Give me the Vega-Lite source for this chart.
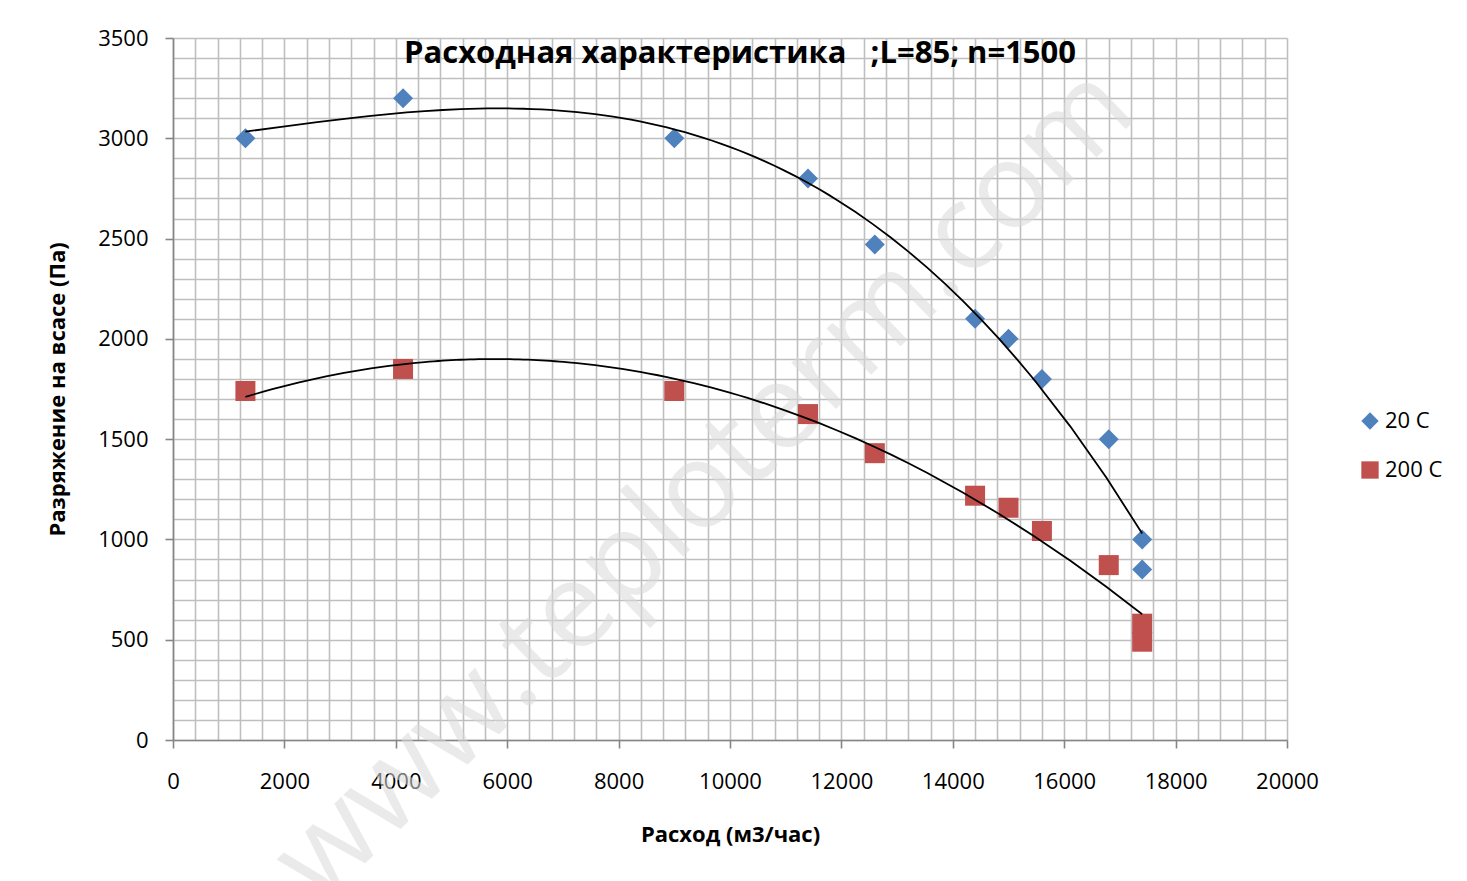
{
  "$schema": "https://vega.github.io/schema/vega-lite/v6.json",
  "autosize": {"type": "none"},
  "width": 1114,
  "height": 702,
  "padding": {"left": 173, "top": 38, "right": 180, "bottom": 141},
  "background": "white",
  "config": {
    "font": "Open Sans",
    "view": {"stroke": null}
  },
  "datasets": {
    "points": [
      {"x": 1300, "y": 3000, "series": "20 C"},
      {"x": 4130, "y": 3200, "series": "20 C"},
      {"x": 9000, "y": 3000, "series": "20 C"},
      {"x": 11400, "y": 2800, "series": "20 C"},
      {"x": 12600, "y": 2470, "series": "20 C"},
      {"x": 14400, "y": 2100, "series": "20 C"},
      {"x": 15000, "y": 2000, "series": "20 C"},
      {"x": 15600, "y": 1800, "series": "20 C"},
      {"x": 16800, "y": 1500, "series": "20 C"},
      {"x": 17400, "y": 1000, "series": "20 C"},
      {"x": 17400, "y": 850, "series": "20 C"},
      {"x": 1300, "y": 1740, "series": "200 C"},
      {"x": 4130, "y": 1850, "series": "200 C"},
      {"x": 9000, "y": 1740, "series": "200 C"},
      {"x": 11400, "y": 1625, "series": "200 C"},
      {"x": 12600, "y": 1430, "series": "200 C"},
      {"x": 14400, "y": 1218, "series": "200 C"},
      {"x": 15000, "y": 1158, "series": "200 C"},
      {"x": 15600, "y": 1042, "series": "200 C"},
      {"x": 16800, "y": 872, "series": "200 C"},
      {"x": 17400, "y": 580, "series": "200 C"},
      {"x": 17400, "y": 490, "series": "200 C"}
    ],
    "watermark": [
      {"label": "www.teploterm.com", "x": 9550, "y": 1270}
    ],
    "titles": [
      {"label": "Расходная характеристика\u00a0\u00a0\u00a0;L=85; n=1500"}
    ]
  },
  "layer": [
    {
      "data": {"name": "watermark"},
      "mark": {"type": "text", "fontSize": 120, "angle": -44, "align": "center", "baseline": "middle", "color": "#DADADA", "opacity": 0.55, "clip": false, "font": "Open Sans"},
      "encoding": {
        "x": {"field": "x", "type": "quantitative",
              "scale": {"domain": [0, 20000], "nice": false, "zero": true},
              "axis": {"orient": "bottom", "values": [0,400,800,1200,1600,2000,2400,2800,3200,3600,4000,4400,4800,5200,5600,6000,6400,6800,7200,7600,8000,8400,8800,9200,9600,10000,10400,10800,11200,11600,12000,12400,12800,13200,13600,14000,14400,14800,15200,15600,16000,16400,16800,17200,17600,18000,18400,18800,19200,19600,20000],
                       "grid": true, "gridColor": "#BFBFBF", "gridWidth": 1.6, "labels": false, "ticks": false, "domain": false, "title": null}},
        "y": {"field": "y", "type": "quantitative",
              "scale": {"domain": [0, 3500], "nice": false, "zero": true},
              "axis": {"orient": "left", "values": [0,100,200,300,400,500,600,700,800,900,1000,1100,1200,1300,1400,1500,1600,1700,1800,1900,2000,2100,2200,2300,2400,2500,2600,2700,2800,2900,3000,3100,3200,3300,3400,3500],
                       "grid": true, "gridColor": "#BFBFBF", "gridWidth": 1.6, "labels": false, "ticks": false, "domain": false, "title": null}},
        "text": {"field": "label"}
      }
    },
    {
      "data": {"name": "points"},
      "mark": {"type": "point", "filled": true, "size": 400, "opacity": 1},
      "encoding": {
        "x": {"field": "x", "type": "quantitative",
              "scale": {"domain": [0, 20000], "nice": false},
              "axis": {"orient": "bottom", "values": [0,2000,4000,6000,8000,10000,12000,14000,16000,18000,20000], "format": "d",
                       "grid": false, "domainColor": "#868686", "domainWidth": 1.6, "tickColor": "#868686", "tickWidth": 1.6, "tickSize": 8,
                       "labelFont": "Open Sans", "labelFontSize": 22, "labelColor": "#000000", "labelPadding": 23, "labelFlush": false,
                       "title": "Расход (м3/час)", "titleFont": "Open Sans", "titleFontSize": 22, "titleFontWeight": "bold", "titleColor": "#000000", "titlePadding": 32}},
        "y": {"field": "y", "type": "quantitative",
              "scale": {"domain": [0, 3500], "nice": false},
              "axis": {"orient": "left", "values": [0,500,1000,1500,2000,2500,3000,3500], "format": "d",
                       "grid": false, "domainColor": "#868686", "domainWidth": 1.6, "tickColor": "#868686", "tickWidth": 1.6, "tickSize": 8,
                       "labelFont": "Open Sans", "labelFontSize": 22, "labelColor": "#000000", "labelPadding": 17, "labelFlush": false,
                       "title": "Разряжение на всасе (Па)", "titleFont": "Open Sans", "titleFontSize": 22, "titleFontWeight": "bold", "titleColor": "#000000", "titlePadding": 28}},
        "color": {"field": "series", "type": "nominal",
                  "scale": {"domain": ["20 C", "200 C"], "range": ["#4F81BD", "#C0504D"]},
                  "legend": {"title": null, "orient": "none", "legendX": 1186, "legendY": 372, "symbolSize": 300, "labelFont": "Open Sans", "labelFontSize": 22, "labelColor": "#000000", "labelOffset": 4, "rowPadding": 27, "symbolStrokeWidth": 0}},
        "shape": {"field": "series", "type": "nominal",
                  "scale": {"domain": ["20 C", "200 C"], "range": ["diamond", "square"]}}
      }
    },
    {
      "data": {"name": "points"},
      "transform": [
        {"filter": "datum.series === '20 C'"},
        {"regression": "y", "on": "x", "method": "poly", "order": 3, "extent": [1300, 17400]}
      ],
      "mark": {"type": "line", "color": "#000000", "strokeWidth": 1.8},
      "encoding": {
        "x": {"field": "x", "type": "quantitative", "axis": null},
        "y": {"field": "y", "type": "quantitative", "axis": null}
      }
    },
    {
      "data": {"name": "points"},
      "transform": [
        {"filter": "datum.series === '200 C'"},
        {"regression": "y", "on": "x", "method": "poly", "order": 2, "extent": [1300, 17400]}
      ],
      "mark": {"type": "line", "color": "#000000", "strokeWidth": 1.8},
      "encoding": {
        "x": {"field": "x", "type": "quantitative", "axis": null},
        "y": {"field": "y", "type": "quantitative", "axis": null}
      }
    },
    {
      "data": {"name": "titles"},
      "mark": {"type": "text", "font": "Open Sans", "fontSize": 31, "fontWeight": "bold", "color": "#000000", "align": "center", "baseline": "middle", "clip": false},
      "encoding": {
        "x": {"datum": 10180, "type": "quantitative", "axis": null},
        "y": {"datum": 3422, "type": "quantitative", "axis": null},
        "text": {"field": "label"}
      }
    }
  ],
  "resolve": {"axis": {"x": "independent", "y": "independent"}}
}
